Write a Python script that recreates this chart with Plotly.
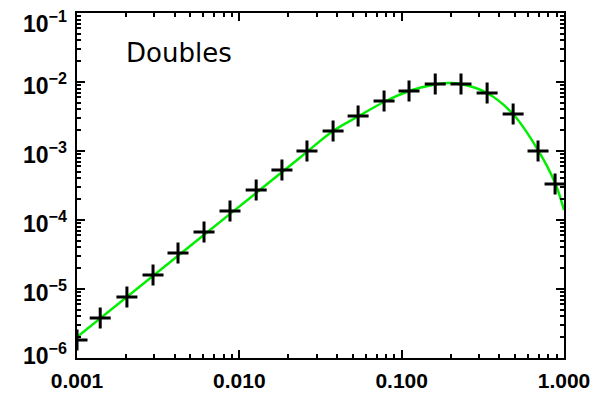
import math
import plotly.graph_objects as go

# Data
marker_x = [0.001, 0.00139, 0.00203, 0.00294, 0.00419, 0.00606, 0.00876, 0.0127,
            0.0183, 0.0261, 0.0378, 0.0539, 0.0779, 0.111, 0.161, 0.232, 0.336,
            0.486, 0.692, 0.881]
marker_y = [1.82e-6, 3.80e-6, 7.66e-6, 1.60e-5, 3.33e-5, 6.70e-5, 1.35e-4, 2.72e-4,
            5.31e-4, 1.00e-3, 1.95e-3, 3.21e-3, 5.30e-3, 7.41e-3, 9.36e-3, 9.36e-3,
            6.93e-3, 3.44e-3, 1.00e-3, 3.32e-4]

curve_x = [0.001, 0.00573, 0.0237, 0.0378, 0.0538, 0.0778, 0.111, 0.160, 0.193,
           0.232, 0.336, 0.485, 0.692, 0.881, 1.0]
curve_y = [2.01e-6, 5.48e-5, 8.05e-4, 1.95e-3, 3.16e-3, 5.13e-3, 7.41e-3, 9.2e-3,
           9.67e-3, 9.36e-3, 6.93e-3, 3.44e-3, 1.03e-3, 3.44e-4, 1.40e-4]

x_tickvals = [0.001, 0.01, 0.1, 1.0]
x_ticktext = ["0.001", "0.010", "0.100", "1.000"]
y_tickvals = [1e-6, 1e-5, 1e-4, 1e-3, 1e-2, 1e-1]
y_ticktext = ["10<sup>\u22126</sup>", "10<sup>\u22125</sup>", "10<sup>\u22124</sup>",
              "10<sup>\u22123</sup>", "10<sup>\u22122</sup>", "10<sup>\u22121</sup>"]
title_text = "Doubles"

x_minor = [m * 10.0 ** e for e in range(-3, 0) for m in range(2, 10)]
y_minor = [m * 10.0 ** e for e in range(-6, -1) for m in range(2, 10)]

label_font = dict(family="Liberation Sans", size=21, color="black", weight="bold")

fig = go.Figure()
fig.add_trace(go.Scatter(
    x=curve_x, y=curve_y, mode="lines",
    line=dict(color="#00ee00", width=2.5, shape="spline", smoothing=1.0),
    showlegend=False,
))
fig.add_trace(go.Scatter(
    x=marker_x, y=marker_y, mode="markers",
    marker=dict(symbol="cross-thin", size=15, color="black",
                line=dict(color="black", width=3)),
    showlegend=False,
))

axis_common = dict(
    type="log", showgrid=False, zeroline=False, automargin=False,
    showline=True, linecolor="black", linewidth=2, mirror="ticks",
    ticks="inside", ticklen=8, tickwidth=1.5, tickcolor="black",
)

fig.update_xaxes(
    **axis_common,
    range=[-3, 0],
    tickmode="array", tickvals=x_tickvals, ticktext=x_ticktext,
    tickfont=label_font,
    ticklabelstandoff=3,
    minor=dict(tickmode="array", tickvals=x_minor, ticks="inside", ticklen=4,
               tickwidth=1.5, tickcolor="black", showgrid=False),
)
fig.update_yaxes(
    **axis_common,
    range=[-6, -1],
    tickmode="array", tickvals=y_tickvals, showticklabels=False,
    minor=dict(tickmode="array", tickvals=y_minor, ticks="inside", ticklen=4,
               tickwidth=1.5, tickcolor="black", showgrid=False),
)

# y tick labels (IDL style: end labels pulled inside the axis span)
n = len(y_tickvals)
for i, (v, t) in enumerate(zip(y_tickvals, y_ticktext)):
    shift = 6 if i == 0 else (-7 if i == n - 1 else 0)
    fig.add_annotation(
        text=t, xref="paper", yref="y", x=0, y=math.log10(v),
        xanchor="right", yanchor="middle", xshift=-8, yshift=shift - 2,
        showarrow=False, font=dict(family="Liberation Sans", size=23,
                                   color="black", weight="bold"),
    )

fig.add_annotation(
    text=title_text, xref="paper", yref="paper", x=0.097, y=0.884,
    xanchor="left", yanchor="middle", showarrow=False,
    font=dict(family="DejaVu Sans", size=26, color="black"),
)

fig.update_layout(
    width=596, height=395,
    margin=dict(l=77, r=32, t=13, b=37),
    paper_bgcolor="white", plot_bgcolor="white",
)

fig.write_html("out.html")
